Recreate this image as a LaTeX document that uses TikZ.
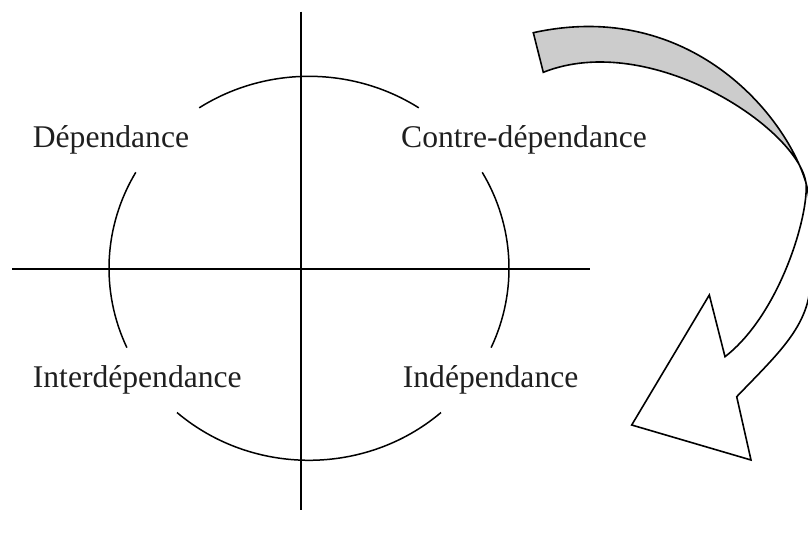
\documentclass[tikz,border=0pt]{standalone}
\usepackage{fontspec}
\setmainfont{Liberation Serif}
\begin{document}
\begin{tikzpicture}[x=1pt,y=-1pt,
  lbl/.style={inner sep=0pt, anchor=base west, font=\fontsize{31.6}{38}\selectfont, text=black!88},
  axisline/.style={line width=1.6pt},
  ring/.style={line width=1.5pt},
  band/.style={line width=1.6pt, line join=miter},
  back/.style={band, fill=black!20},
  front/.style={band, fill=white}]
\useasboundingbox (0,0) rectangle (808,538);
\clip (0,0) rectangle (808,538);

% axes
\coordinate (vt) at (301,11.7);
\coordinate (vb) at (301,510);
\coordinate (hl) at (12.3,268.7);
\coordinate (hr) at (590,268.7);
\draw[axisline] (vt) -- (vb);
\draw[axisline] (hl) -- (hr);

% broken circle (pt radii: angles counted with y upwards)
\coordinate (c) at (309,268.3);
\draw[ring] ([shift={(c)}] 56.7:200pt and 192pt) arc[start angle=56.7, end angle=123.3, x radius=200pt, y radius=192pt];
\draw[ring] ([shift={(c)}] 150:200pt and 192pt) arc[start angle=150, end angle=204.4, x radius=200pt, y radius=192pt];
\draw[ring] ([shift={(c)}] 228.7:200pt and 192pt) arc[start angle=228.7, end angle=311.3, x radius=200pt, y radius=192pt];
\draw[ring] ([shift={(c)}] -24.4:200pt and 192pt) arc[start angle=-24.4, end angle=30, x radius=200pt, y radius=192pt];

% labels
\node[lbl] (dep) at (32.7,147.3) {Dépendance};
\node[lbl] (cdep) at (401,147.3) {Contre-dépendance};
\node[lbl] (idep) at (32.7,387.7) {Interdépendance};
\node[lbl] (indep) at (402.7,387.7) {Indépendance};

% curved arrow
\coordinate (tailA) at (533.3,32.7);
\coordinate (tailB) at (543.3,72.3);
\coordinate (tip) at (806,183);
\coordinate (ib) at (725,356.7);
\coordinate (ibt) at (709.3,295);
\coordinate (ah) at (631.7,425);
\coordinate (obt) at (751,460);
\coordinate (ob) at (736.7,396.7);
\coordinate (od) at (807.3,303.3);

% front (white) part
\draw[front] (tip) .. controls (809,215) and (780,314) .. (ib)
  -- (ibt) -- (ah) -- (obt) -- (ob)
  .. controls (772,360) and (798,336) .. (od)
  .. controls (815.1,274.5) and (811.8,202.2) .. (tip) -- cycle;

% back (grey) part
\draw[back] (tailA) .. controls (689.6,-1.7) and (786,115) .. (tip)
  .. controls (798,128) and (650,30) .. (tailB) -- cycle;
\end{tikzpicture}
\end{document}
